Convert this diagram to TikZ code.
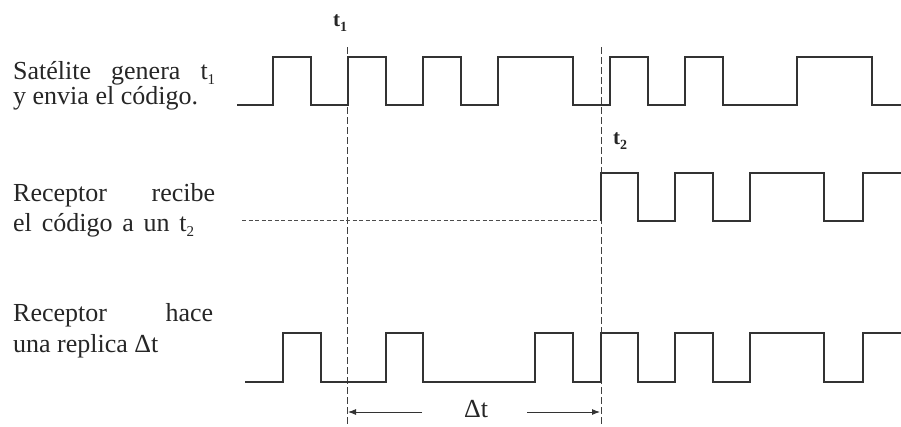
\documentclass[tikz,border=0pt]{standalone}
\usepackage{fontspec}
\setmainfont{Liberation Serif}
\usetikzlibrary{arrows.meta}
\newcommand\mysub[2][15]{\raisebox{-0.45ex}{\fontsize{#1}{#1}\selectfont #2}}
\begin{document}
\begin{tikzpicture}[x=1pt,y=-1pt,
  wave/.style={line width=1.4pt,draw=black!80,line join=miter},
  vdash/.style={line width=0.9pt,draw=black!75,dash pattern=on 7pt off 3pt},
  hdash/.style={line width=0.9pt,draw=black!70,dash pattern=on 4pt off 2.5pt},
  lbl/.style={anchor=base west,inner sep=0pt,text=black!85,font=\fontsize{26}{30}\selectfont},
  tlbl/.style={inner sep=0pt,text=black!85,font=\fontsize{21}{24}\selectfont\bfseries},
  dim/.style={line width=0.9pt,draw=black!80,-{Latex[length=8pt,width=6pt]}}]
\useasboundingbox[fill=white] (0,0) rectangle (901,426);

% texts
\node[lbl] (sat1) at (13,79) {\makebox[202pt][s]{Satélite genera t\mysub{1}}};
\node[lbl] (sat2) at (13,104) {y envia el código.};
\node[lbl] (rec1) at (13,201) {\makebox[202pt][s]{Receptor recibe}};
\node[lbl] (rec2) at (13,231) {\makebox[181pt][s]{el código a un t\mysub{2}}};
\node[lbl] (rep1) at (13,321) {\makebox[200pt][s]{Receptor hace}};
\node[lbl] (rep2) at (13,352) {una replica Δt};

% t labels
\node[tlbl] (t1) at (340,23) {t\mysub[14]{1}};
\node[tlbl] (t2) at (620,141) {t\mysub[14]{2}};

% dashed reference lines
\coordinate (t1top) at (347,47);
\coordinate (t1bot) at (347,426);
\coordinate (t2top) at (601,47);
\coordinate (t2bot) at (601,426);
\coordinate (hl) at (242,220);
\coordinate (hr) at (601,220);
\draw[vdash] (t1top) -- (t1bot);
\draw[vdash] (t2top) -- (t2bot);
\draw[hdash] (hl) -- (hr);

% satellite code
\draw[wave] (237,105) -- (273,105) -- (273,57) -- (311,57) -- (311,105) -- (348,105) -- (348,57) -- (386,57) -- (386,105) -- (423,105) -- (423,57) -- (461,57) -- (461,105) -- (498,105) -- (498,57) -- (573,57) -- (573,105) -- (610,105) -- (610,57) -- (648,57) -- (648,105) -- (685,105) -- (685,57) -- (723,57) -- (723,105) -- (797,105) -- (797,57) -- (872,57) -- (872,105) -- (901,105);

% received code
\draw[wave] (601,221) -- (601,173) -- (638,173) -- (638,221) -- (675,221) -- (675,173) -- (713,173) -- (713,221) -- (750,221) -- (750,173) -- (824,173) -- (824,221) -- (863,221) -- (863,173) -- (901,173);

% replica
\draw[wave] (245,382) -- (283,382) -- (283,333) -- (321,333) -- (321,382) -- (386,382) -- (386,333) -- (423,333) -- (423,382) -- (535,382) -- (535,333) -- (573,333) -- (573,382) -- (601,382) -- (601,333) -- (638,333) -- (638,382) -- (675,382) -- (675,333) -- (713,333) -- (713,382) -- (750,382) -- (750,333) -- (824,333) -- (824,382) -- (863,382) -- (863,333) -- (901,333);

% delta t dimension
\node[inner sep=0pt,text=black!85,font=\fontsize{26}{30}\selectfont] (dt) at (476,409) {Δt};
\coordinate (al) at (348,412);
\coordinate (ar) at (600,412);
\coordinate (als) at (422,412);
\coordinate (ars) at (527,412);
\draw[dim] (als) -- (al);
\draw[dim] (ars) -- (ar);
\end{tikzpicture}
\end{document}
